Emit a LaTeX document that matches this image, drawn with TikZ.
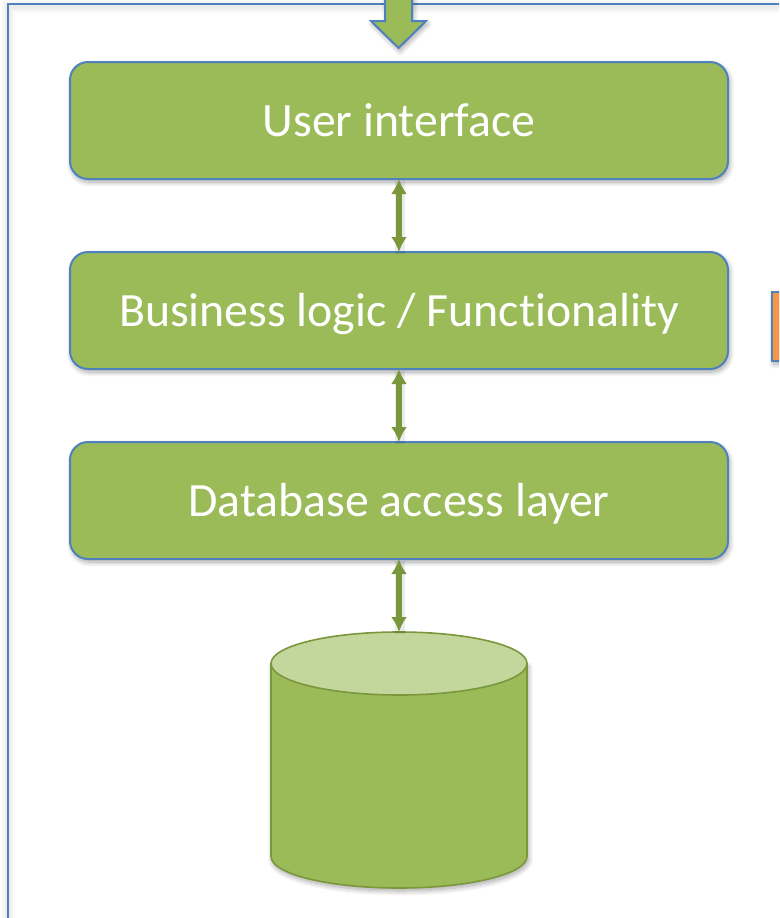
\documentclass[tikz,border=0pt]{standalone}
\usepackage{fontspec}
\setmainfont[Ligatures=NoCommon]{Carlito}
\usepackage{xcolor}
\usetikzlibrary{positioning}
\usetikzlibrary{arrows.meta}
\usetikzlibrary{shapes.geometric}
\usetikzlibrary{shadows.blur}
\definecolor{layerGreen}{HTML}{9BBB59}
\definecolor{lineBlue}{HTML}{4F81BD}
\definecolor{darkGreen}{HTML}{7B973C}
\definecolor{topGreen}{HTML}{C3D69B}
\definecolor{sideOrange}{HTML}{F79646}
\tikzset{
  softshadow/.style={blur shadow={shadow xshift=1.5pt,shadow yshift=-3pt,shadow blur steps=10,shadow blur radius=5pt,shadow opacity=35}},
  Layer/.style={draw=lineBlue,line width=2pt,fill=layerGreen,rounded corners=18pt,
    minimum width=658pt,minimum height=117pt,inner sep=0pt,outer sep=0pt,text=white,
    text height=36pt,text depth=4pt,
    font=\fontsize{47.8}{56}\selectfont,softshadow}, % für die Schichten
  Link/.style={draw=darkGreen,line width=5.5pt,{Latex[length=15pt,width=16pt]}-{Latex[length=15pt,width=16pt]},
    preaction={draw=black,opacity=.08,line width=10pt,-,transform canvas={xshift=1pt,yshift=-2pt}}} % für Doppelpfeile
}
\begin{document}
\begin{tikzpicture}[x=1pt,y=-1pt]
\useasboundingbox (0,0) rectangle (779,918);
\clip (0,0) rectangle (779,918);

%Rahmen
\foreach \w in {4,7,10,13}
{
  \draw[black,opacity=.02,line width=\w pt] (8,6) rectangle (800,940);
}
\draw[draw=lineBlue,line width=2pt] (7.5,3.5) rectangle (800,940);
\draw[draw=lineBlue,line width=2pt,fill=sideOrange,softshadow] (772,292) rectangle (800,361);

%Schichten
\node[Layer] (ui) at (399,120.5) {User interface};
\node[Layer,below=73pt of ui] (logic) {Business logic / Functionality};
\node[Layer,below=73pt of logic] (dbaccess) {Database access layer};

%Datenbank
\node[below=73pt of dbaccess,minimum width=256pt,minimum height=256pt,inner sep=0pt,outer sep=0pt] (db) {};
\draw[draw=darkGreen,line width=1.6pt,fill=layerGreen,softshadow]
  ([yshift=-31.5pt]db.north west) -- ([yshift=31.5pt]db.south west)
  arc (180:360:128pt and 31.5pt) -- ([yshift=-31.5pt]db.north east) -- cycle;
\node[ellipse,anchor=north,draw=darkGreen,line width=1.6pt,fill=topGreen,
  minimum width=256pt,minimum height=63pt,inner sep=0pt,outer sep=0pt] (dbtop) at (db.north) {};

%Eingangspfeil
\draw[draw=lineBlue,line width=2pt,fill=layerGreen,softshadow]
  (385,-5) -- (385,21) -- (371,21) -- (398.5,48) -- (426,21) -- (412,21) -- (412,-5) -- cycle;

%Doppelpfeile
\draw[Link] (ui) -- (logic);
\draw[Link] (logic) -- (dbaccess);
\draw[Link] (dbaccess) -- (dbtop.north);
\end{tikzpicture}
\end{document}
